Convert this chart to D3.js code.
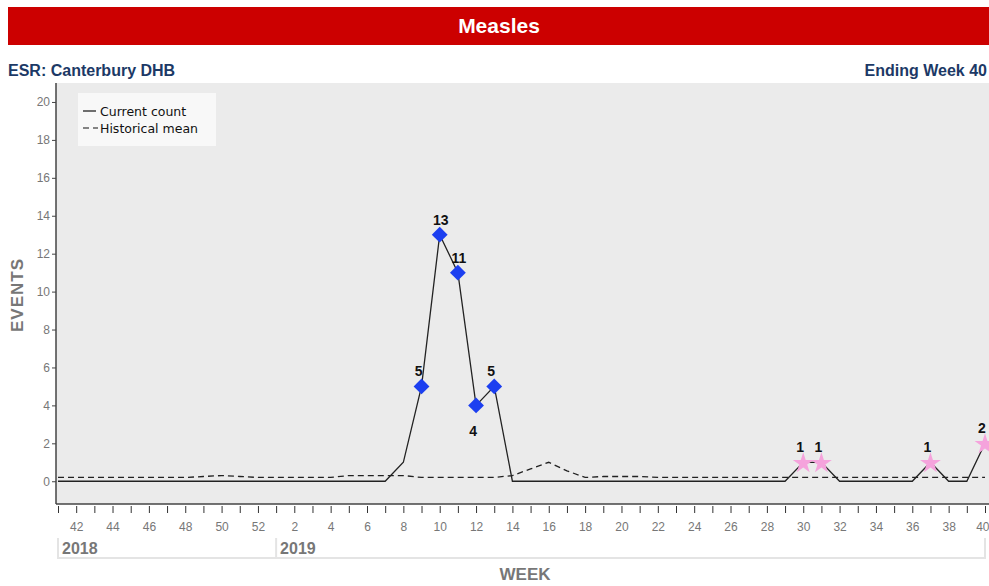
<!DOCTYPE html>
<html lang="en">
<head>
  <meta charset="UTF-8">
  <title>Measles</title>
  <script src="https://cdn.jsdelivr.net/npm/d3@7/dist/d3.min.js"></script>
  <style>
    html, body { margin: 0; background: #fff; }
    svg { display: block; }
  </style>
</head>
<body>
  <script>
    // canvas
    const width = 989
    const height = 586

    // data: 2018 wk41 .. 2019 wk40
    const weeks = [41, 42, 43, 44, 45, 46, 47, 48, 49, 50, 51, 52,
      1, 2, 3, 4, 5, 6, 7, 8, 9, 10, 11, 12, 13, 14, 15, 16, 17, 18, 19, 20,
      21, 22, 23, 24, 25, 26, 27, 28, 29, 30, 31, 32, 33, 34, 35, 36, 37, 38, 39, 40]
    const years = ['2018', '2019']
    const yearStart = [0, 12] // index of first week of each year
    const currentCount = [0, 0, 0, 0, 0, 0, 0, 0, 0, 0, 0, 0,
      0, 0, 0, 0, 0, 0, 0, 1, 5, 13, 11, 4, 5, 0, 0, 0, 0, 0, 0, 0,
      0, 0, 0, 0, 0, 0, 0, 0, 0, 1, 1, 0, 0, 0, 0, 0, 1, 0, 0, 2]
    const historicalMean = [0.2, 0.2, 0.2, 0.2, 0.2, 0.2, 0.2, 0.2, 0.25, 0.3, 0.25, 0.2,
      0.2, 0.2, 0.2, 0.2, 0.3, 0.3, 0.3, 0.3, 0.2, 0.2, 0.2, 0.2, 0.2, 0.3, 0.65, 1.0, 0.55, 0.2, 0.25, 0.25,
      0.25, 0.2, 0.2, 0.2, 0.2, 0.2, 0.2, 0.2, 0.2, 0.2, 0.2, 0.2, 0.2, 0.2, 0.2, 0.2, 0.2, 0.2, 0.2, 0.2]
    // flagged weeks (index into arrays)
    const diamondIdx = [20, 21, 22, 23, 24]
    const starIdx = [41, 42, 48, 51]
    const labelBelowIdx = [23]
    const yTicks = [0, 2, 4, 6, 8, 10, 12, 14, 16, 18, 20]

    const svg = d3.select('body').append('svg')
      .attr('width', width)
      .attr('height', height)

    // header
    svg.append('rect')
      .attr('x', 8).attr('y', 7).attr('width', width - 8).attr('height', 38)
      .attr('fill', '#cc0000')
    svg.append('text')
      .attr('x', 499).attr('y', 33)
      .attr('text-anchor', 'middle')
      .attr('fill', '#fff')
      .style('font', "bold 21px 'Liberation Sans Narrow', 'Arial Narrow', sans-serif")
      .text('Measles')

    const subFont = "bold 16px 'Liberation Sans Narrow', 'Arial Narrow', sans-serif"
    svg.append('text')
      .attr('x', 8).attr('y', 76)
      .attr('fill', '#1c3966')
      .style('font', subFont)
      .text('ESR: Canterbury DHB')
    svg.append('text')
      .attr('x', 987).attr('y', 76)
      .attr('text-anchor', 'end')
      .attr('fill', '#1c3966')
      .style('font', subFont)
      .text('Ending Week 40')

    // plot area
    const plot = { left: 56, right: 989, top: 83, bottom: 504 }

    svg.append('rect')
      .attr('x', plot.left).attr('y', plot.top)
      .attr('width', plot.right - plot.left).attr('height', plot.bottom - plot.top)
      .attr('fill', '#ebebeb')

    const xScale = d3.scaleLinear()
      .domain([0, weeks.length - 1])
      .range([58, 985])

    const yScale = d3.scaleLinear()
      .domain([-1.2, 21])
      .range([plot.bottom, plot.top])

    // y axis
    const yAxis = d3.axisLeft(yScale)
      .tickValues(yTicks)
      .tickSize(4)
      .tickPadding(2)
    const gy = svg.append('g')
      .attr('transform', `translate(${plot.left}, 0)`)
      .call(yAxis)
    gy.select('.domain').remove()
    gy.selectAll('.tick line').attr('stroke', '#444')
    gy.selectAll('.tick text')
      .attr('fill', '#777')
      .style('font', "12px 'Liberation Sans', Arial, sans-serif")

    // x axis
    const xAxis = d3.axisBottom(xScale)
      .tickValues(d3.range(weeks.length))
      .tickSize(7)
      .tickPadding(9)
      .tickFormat(i => weeks[i] % 2 === 0 ? weeks[i] : '')
    const gx = svg.append('g')
      .attr('transform', `translate(0, ${plot.bottom + 2})`)
      .call(xAxis)
    gx.select('.domain').remove()
    gx.selectAll('.tick line').attr('stroke', '#333')
    gx.selectAll('.tick text')
      .attr('fill', '#777')
      .style('font', "12px 'Liberation Sans', Arial, sans-serif")
    // last label kept inside the window
    gx.selectAll('.tick text')
      .filter(i => i === weeks.length - 1)
      .attr('text-anchor', 'end')
      .attr('dx', 4)

    // frame lines
    svg.append('line')
      .attr('x1', plot.left).attr('x2', plot.left)
      .attr('y1', plot.top).attr('y2', plot.bottom)
      .attr('stroke', '#444').attr('stroke-width', 1.5)
    svg.append('line')
      .attr('x1', plot.left).attr('x2', plot.right)
      .attr('y1', plot.bottom).attr('y2', plot.bottom)
      .attr('stroke', '#444').attr('stroke-width', 1.5)

    // year band
    const bandTop = 538
    const bandBottom = 558
    svg.append('path')
      .attr('d', `M${xScale(0)},${bandTop}V${bandBottom}H${xScale(weeks.length - 1)}V${bandTop}`)
      .attr('fill', 'none').attr('stroke', '#e4e4e4').attr('stroke-width', 2)
    svg.append('line')
      .attr('x1', xScale(yearStart[1])).attr('x2', xScale(yearStart[1]))
      .attr('y1', bandTop).attr('y2', bandBottom)
      .attr('stroke', '#e4e4e4').attr('stroke-width', 2)
    svg.selectAll('.year')
      .data(years)
      .enter()
      .append('text')
      .attr('class', 'year')
      .attr('x', (d, i) => xScale(yearStart[i]) + 4)
      .attr('y', 554)
      .attr('fill', '#777')
      .style('font', "bold 16px 'Liberation Sans', Arial, sans-serif")
      .text(d => d)

    // axis titles
    svg.append('text')
      .attr('x', 525).attr('y', 580)
      .attr('text-anchor', 'middle')
      .attr('fill', '#777')
      .style('font', "bold 17px 'Liberation Sans', Arial, sans-serif")
      .text('WEEK')
    svg.append('text')
      .attr('transform', `translate(23, 295) rotate(-90)`)
      .attr('text-anchor', 'middle')
      .attr('fill', '#777')
      .style('font', "bold 17px 'Liberation Sans', Arial, sans-serif")
      .style('letter-spacing', '1px')
      .text('EVENTS')

    // lines
    const line = d3.line()
      .x((d, i) => xScale(i))
      .y(d => yScale(d))

    svg.append('path')
      .datum(historicalMean)
      .attr('d', line)
      .attr('fill', 'none')
      .attr('stroke', '#222')
      .attr('stroke-width', 1.3)
      .attr('stroke-dasharray', '6,4')

    svg.append('path')
      .datum(currentCount)
      .attr('d', line)
      .attr('fill', 'none')
      .attr('stroke', '#222')
      .attr('stroke-width', 1.3)

    // markers
    const diamond = d3.symbol(d3.symbolSquare, 125)
    svg.selectAll('.diamond')
      .data(diamondIdx)
      .enter()
      .append('path')
      .attr('class', 'diamond')
      .attr('d', diamond)
      .attr('transform', i => `translate(${xScale(i)}, ${yScale(currentCount[i])}) rotate(45)`)
      .attr('fill', '#1c3ff0')

    const star = d3.symbol(d3.symbolStar, 135)
    svg.selectAll('.star')
      .data(starIdx)
      .enter()
      .append('path')
      .attr('class', 'star')
      .attr('d', star)
      .attr('transform', i => `translate(${xScale(i)}, ${yScale(currentCount[i]) + 1})`)
      .attr('fill', '#f5a3dc')

    // value labels
    svg.selectAll('.valueLabel')
      .data(diamondIdx.concat(starIdx))
      .enter()
      .append('text')
      .attr('class', 'valueLabel')
      .attr('x', i => xScale(i) + (currentCount[i] >= 10 ? 1 : -3))
      .attr('y', i => labelBelowIdx.includes(i) ? yScale(currentCount[i]) + 31 : yScale(currentCount[i]) - 10)
      .attr('text-anchor', 'middle')
      .attr('fill', '#111')
      .style('font', "bold 14px 'Liberation Sans', Arial, sans-serif")
      .text(i => currentCount[i])

    // legend
    const legend = svg.append('g').attr('transform', 'translate(78, 93)')
    legend.append('rect')
      .attr('width', 138).attr('height', 53)
      .attr('fill', '#f8f8f8')
    const legendItems = ['Current count', 'Historical mean']
    legendItems.forEach((name, i) => {
      legend.append('line')
        .attr('x1', 5).attr('x2', i === 0 ? 18 : 20)
        .attr('y1', 18 + i * 17).attr('y2', 18 + i * 17)
        .attr('stroke', '#111').attr('stroke-width', 1.2)
        .attr('stroke-dasharray', i === 0 ? null : '6,4')
      legend.append('text')
        .attr('x', 22).attr('y', 23 + i * 17)
        .attr('fill', '#111')
        .style('font', "12.5px 'DejaVu Sans', Verdana, sans-serif")
        .text(name)
    })
  </script>
</body>
</html>
